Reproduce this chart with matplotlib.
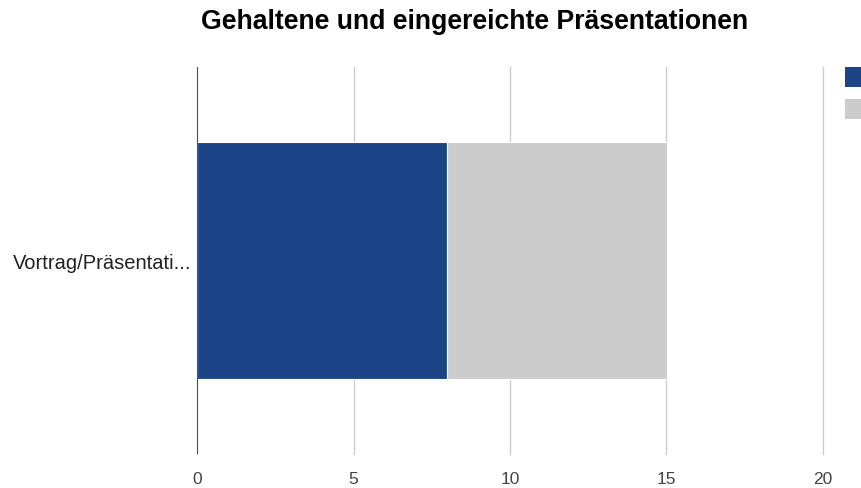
import matplotlib.pyplot as plt
from matplotlib.patches import Patch

# chart data
categories = ["Vortrag/Präsentati..."]
series_names = ["Gehalten", "Eingereicht"]
gehalten = [8]
eingereicht = [7]
x_ticks = [0, 5, 10, 15, 20]

colors = ["#1c4587", "#cccccc"]

plt.rcParams["font.family"] = ["Liberation Sans", "DejaVu Sans"]

fig = plt.figure(figsize=(8.62, 4.89), dpi=100)
ax = fig.add_axes([197 / 862, 1 - 455 / 489, 626 / 862, 387 / 489])

ax.barh(categories, gehalten, height=0.612, color=colors[0], edgecolor="white", linewidth=0.8)
ax.barh(categories, eingereicht, left=gehalten, height=0.612, color=colors[1], edgecolor="white", linewidth=0.8)

ax.set_xlim(0, 20)
ax.set_ylim(-0.5, 0.5)
ax.set_xticks(x_ticks)
ax.grid(axis="x", color="#cccccc", linewidth=1)
ax.set_axisbelow(True)
# keep the last gridline (at 20) from being half clipped
for gl in ax.get_xgridlines():
    gl.set_clip_on(False)
ax.axvline(0, color="#333333", linewidth=1.2)

for spine in ax.spines.values():
    spine.set_visible(False)
ax.tick_params(axis="x", length=0, pad=12, labelsize=12.5, labelcolor="#444444")
ax.tick_params(axis="y", length=0, pad=4, labelsize=14.5, labelcolor="#222222")

fig.text(475 / 862, 1 - 22 / 489, "Gehaltene und eingereichte Präsentationen",
         ha="center", va="center", fontsize=19.2, fontweight="bold", color="#000000")

# legend sits at the right edge, its labels fall off the canvas in the original
handles = [Patch(facecolor=c, edgecolor="none") for c in colors]
leg = fig.legend(handles, series_names, loc="upper left",
                 bbox_to_anchor=(845 / 862, 1 - 68 / 489), bbox_transform=fig.transFigure,
                 frameon=False, borderpad=0, borderaxespad=0, handlelength=1.4,
                 handleheight=1.84, labelspacing=0.89, handletextpad=1.2, fontsize=10)
for t in leg.get_texts():
    t.set_visible(False)

plt.savefig("out.png", dpi=100)
plt.close(fig)
